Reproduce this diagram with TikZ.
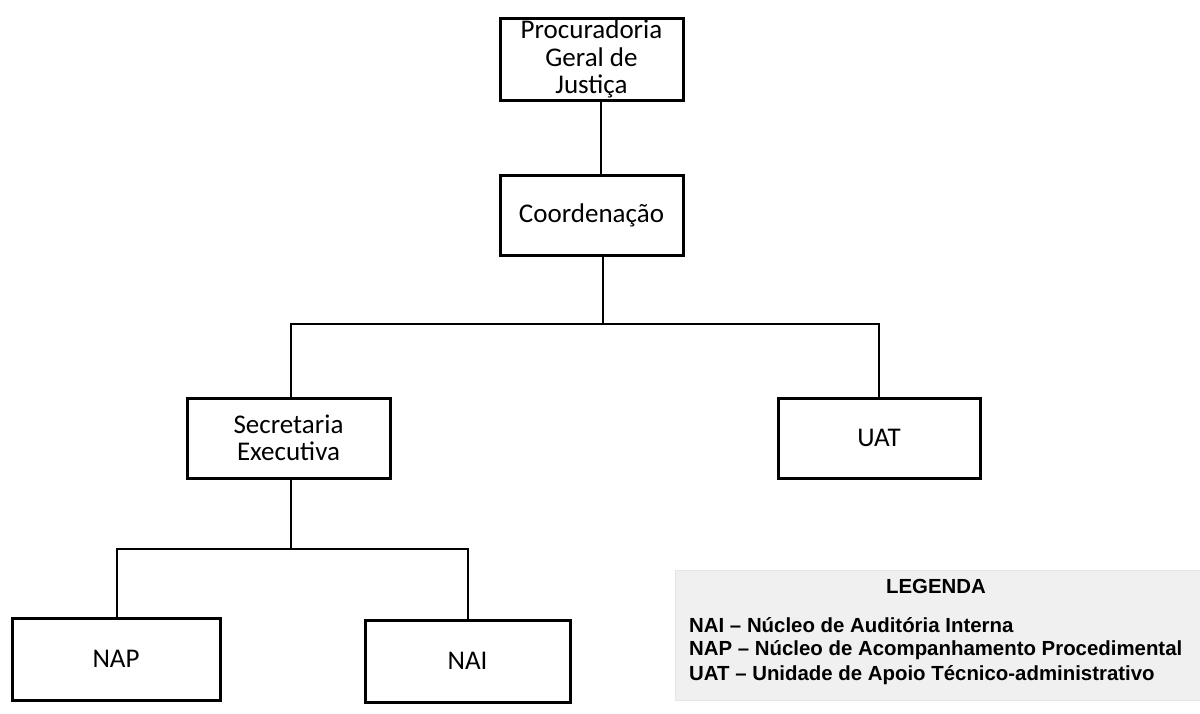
\documentclass[tikz,border=0pt]{standalone}
\usepackage{fontspec}
\setmainfont{Carlito}
\newfontfamily\legfont{Liberation Sans}
\begin{document}
\begin{tikzpicture}[x=1pt,y=-1pt,
  orgbox/.style={draw=black,line width=3pt,fill=white,align=center,inner sep=0pt,font=\fontsize{27}{27.5}\selectfont},
  conn/.style={draw=black,line width=2pt},
  legtext/.style={anchor=west,inner sep=0pt,font=\legfont\bfseries\fontsize{20.4}{24}\selectfont}]
\useasboundingbox (0,0) rectangle (1200,713);
\fill[white] (0,0) rectangle (1200,713);
% legend background
\node[draw=gray!20,fill=gray!12,line width=0.8pt,minimum width=526pt,minimum height=130pt,anchor=north west,inner sep=0pt] (leg) at (675,570) {};
\node[inner sep=0pt,font=\legfont\bfseries\fontsize{20.4}{24}\selectfont] (legt) at (936,586) {LEGENDA};
\node[legtext] (l1) at (689,625) {NAI – Núcleo de Auditória Interna};
\node[legtext] (l2) at (689,650) {NAP – Núcleo de Acompanhamento Procedimental};
\node[legtext] (l3) at (689,675) {UAT – Unidade de Apoio Técnico-administrativo};
% boxes
\node[orgbox,minimum width=183pt,minimum height=82pt] (pgj) at (591.5,59) {Procuradoria\\Geral de\\Justiça};
\node[orgbox,minimum width=183pt,minimum height=80pt] (coord) at (591.5,215) {Coordenação};
\node[orgbox,minimum width=203pt,minimum height=80pt] (sec) at (288.5,438) {Secretaria\\Executiva};
\node[orgbox,minimum width=202pt,minimum height=80pt] (uat) at (879,438) {UAT};
\node[orgbox,minimum width=208pt,minimum height=82pt] (nap) at (116,659) {NAP};
\node[orgbox,minimum width=205pt,minimum height=82pt] (nai) at (467.5,661) {NAI};
% connector junctions
\coordinate (j1) at (603,324);
\coordinate (j2) at (291,549);
% connectors
\draw[conn] (pgj.south -| 601,0) -- (coord.north -| 601,0);
\draw[conn] (coord.south -| j1) -- (j1);
\draw[conn] (sec.north -| 291,0) |- (j1) -| (uat.north);
\draw[conn] (sec.south -| j2) -- (j2);
\draw[conn] (nap.north -| 117,0) |- (j2) -| (nai.north);
\end{tikzpicture}
\end{document}
